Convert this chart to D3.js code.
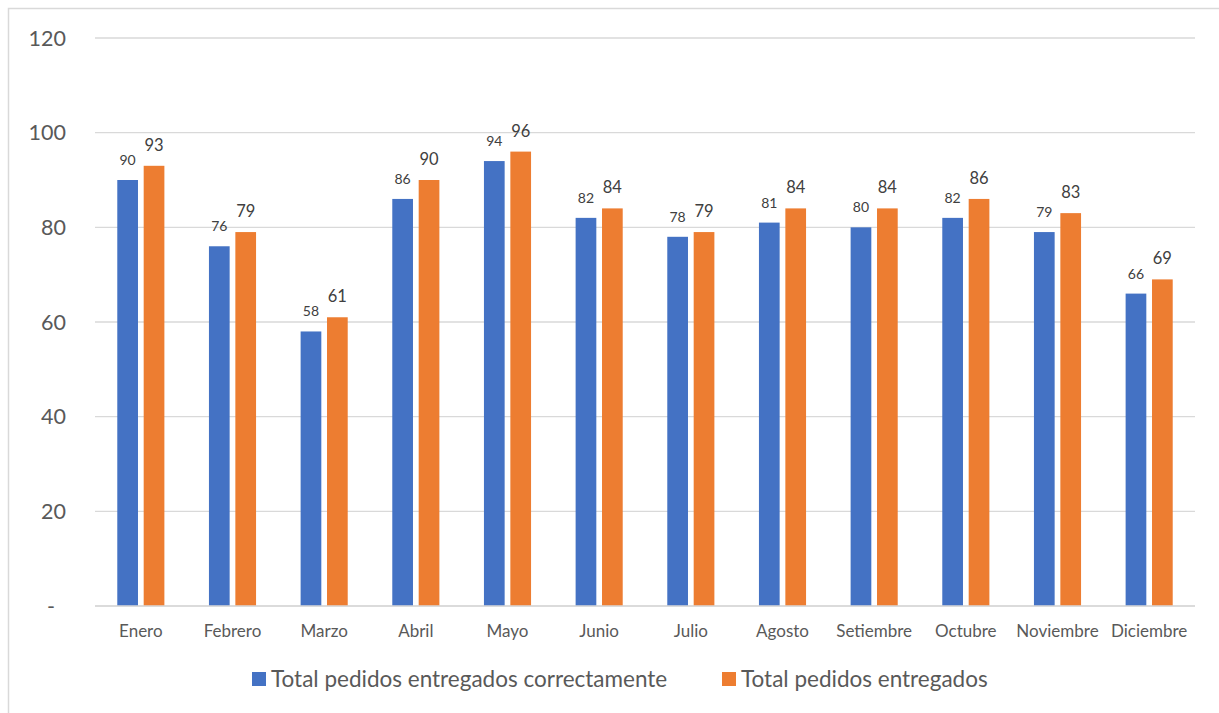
<!DOCTYPE html>
<html>
<head>
<meta charset="utf-8">
<script src="https://cdn.jsdelivr.net/npm/d3@7"></script>
<style>
  html, body { margin: 0; padding: 0; background: #fff; }
  svg { display: block; font-family: Lato, "Open Sans", sans-serif; }
</style>
</head>
<body>
<svg id="chart" width="1219" height="713"></svg>
<script>
const months = ["Enero", "Febrero", "Marzo", "Abril", "Mayo", "Junio", "Julio",
                "Agosto", "Setiembre", "Octubre", "Noviembre", "Diciembre"];
const seriesNames = ["Total pedidos entregados correctamente", "Total pedidos entregados"];
const correctos = [90, 76, 58, 86, 94, 82, 78, 81, 80, 82, 79, 66];
const entregados = [93, 79, 61, 90, 96, 84, 79, 84, 84, 86, 83, 69];
const yTicks = [0, 20, 40, 60, 80, 100, 120];
const yTickLabels = ["-", "20", "40", "60", "80", "100", "120"];
const colors = ["#4472C4", "#ED7D31"];

const svg = d3.select("#chart");
const margin = { left: 95, right: 24, top: 38, bottom: 107 };
const W = 1219, H = 713;

// chart frame
svg.append("rect")
  .attr("x", 8.5).attr("y", 8.5)
  .attr("width", 1230).attr("height", 730)
  .attr("fill", "#fff").attr("stroke", "#d9d9d9").attr("stroke-width", 1.5);

const x = d3.scaleBand().domain(months)
  .range([margin.left, W - margin.right]);
const y = d3.scaleLinear().domain([0, 120])
  .range([H - margin.bottom, margin.top]);

// horizontal gridlines
svg.append("g").selectAll("line").data(yTicks).join("line")
  .attr("x1", margin.left).attr("x2", W - margin.right)
  .attr("y1", d => y(d)).attr("y2", d => y(d))
  .attr("stroke", "#d9d9d9").attr("stroke-width", 1.3);

// y tick labels
svg.append("g").selectAll("text").data(yTicks).join("text")
  .attr("x", (d, i) => d === 0 ? 55 : 66)
  .attr("y", d => y(d))
  .attr("dy", "0.35em")
  .attr("text-anchor", "end")
  .attr("fill", "#595959")
  .attr("font-size", 21.5)
  .text((d, i) => yTickLabels[i]);

// bars
const barW = 20.7, gap = 5.7;
const groups = [correctos, entregados];
const offsets = [-(gap / 2 + barW), gap / 2];
const labelSizes = [14, 16.5];

groups.forEach((vals, s) => {
  const g = svg.append("g");
  g.selectAll("rect").data(vals).join("rect")
    .attr("x", (d, i) => x(months[i]) + x.bandwidth() / 2 + offsets[s])
    .attr("y", d => y(d))
    .attr("width", barW)
    .attr("height", d => y(0) - y(d))
    .attr("fill", colors[s]);
  g.selectAll("text").data(vals).join("text")
    .attr("x", (d, i) => x(months[i]) + x.bandwidth() / 2 + offsets[s] + barW / 2)
    .attr("y", d => y(d) - 15)
    .attr("text-anchor", "middle")
    .attr("fill", "#404040")
    .attr("font-size", labelSizes[s])
    .text(d => d);
});

// baseline
svg.append("line")
  .attr("x1", margin.left).attr("x2", W - margin.right)
  .attr("y1", y(0)).attr("y2", y(0))
  .attr("stroke", "#d9d9d9").attr("stroke-width", 1.5);

// month labels
svg.append("g").selectAll("text").data(months).join("text")
  .attr("x", d => x(d) + x.bandwidth() / 2)
  .attr("y", 637)
  .attr("text-anchor", "middle")
  .attr("fill", "#595959")
  .attr("font-size", 17)
  .text(d => d);

// legend
const legend = svg.append("g");
const legendX = [252, 722];
seriesNames.forEach((name, i) => {
  legend.append("rect")
    .attr("x", legendX[i]).attr("y", 672)
    .attr("width", 14).attr("height", 14)
    .attr("fill", colors[i]);
  legend.append("text")
    .attr("x", legendX[i] + 19).attr("y", 687)
    .attr("fill", "#595959")
    .attr("font-size", 22.5)
    .text(name);
});
</script>
</body>
</html>
